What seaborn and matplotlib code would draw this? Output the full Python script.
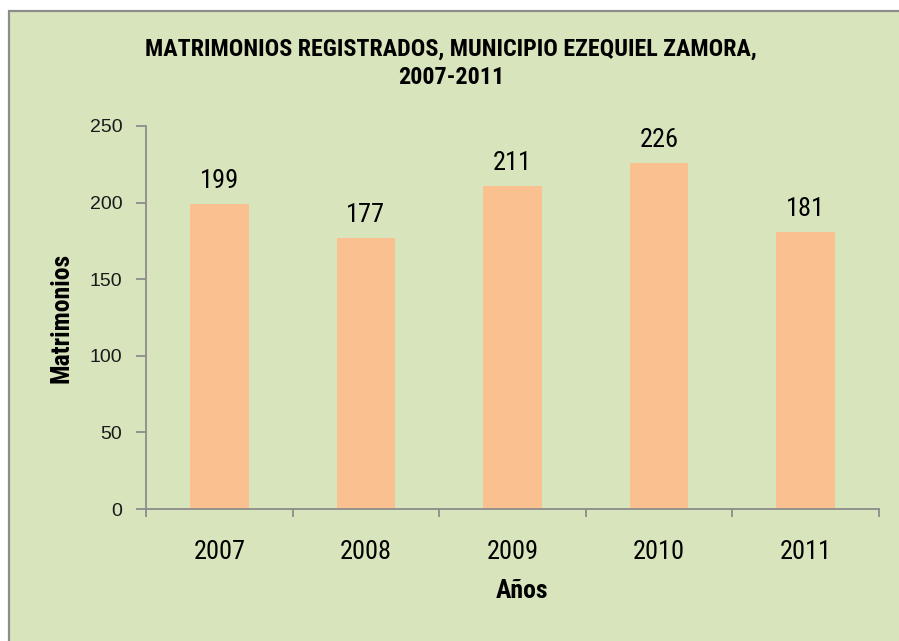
import matplotlib
matplotlib.use("Agg")
import matplotlib.pyplot as plt
from matplotlib.patches import Rectangle
import seaborn as sns
import pandas as pd

years = ["2007", "2008", "2009", "2010", "2011"]
matrimonios = [199, 177, 211, 226, 181]
y_ticks = [0, 50, 100, 150, 200, 250]

title_text = "MATRIMONIOS REGISTRADOS, MUNICIPIO EZEQUIEL ZAMORA,\n2007-2011"
x_label = "Años"
y_label = "Matrimonios"

panel_color = "#D8E4BC"
bar_color = "#FAC090"
line_gray = "#8C8C8C"

sns.set_theme(style="white")
narrow = ["Roboto Condensed", "DejaVu Sans"]
plt.rcParams["font.family"] = ["Liberation Sans", "DejaVu Sans"]

df = pd.DataFrame({"Año": years, "Matrimonios": matrimonios})

fig = plt.figure(figsize=(8.99, 6.41), dpi=100, facecolor="white")

# chart panel with a gray frame on its top and left edges
panel = Rectangle((8.5 / 899, -0.1), 1.2, 630.5 / 641 + 0.1,
                  transform=fig.transFigure, facecolor=panel_color,
                  edgecolor=line_gray, linewidth=1.6, zorder=-10)
fig.patches.append(panel)

ax = fig.add_axes([146 / 899, 1 - 509 / 641, 733 / 899, 383 / 641], zorder=5)
ax.set_facecolor("none")

sns.barplot(data=df, x="Año", y="Matrimonios", color=bar_color,
            saturation=1, width=0.4, linewidth=0, edgecolor=bar_color, ax=ax)

ax.bar_label(ax.containers[0], labels=[str(v) for v in matrimonios],
             padding=8, fontsize=19, family=narrow, color="black")

ax.set_xlim(-0.5, len(years) - 0.5)
ax.set_ylim(0, 250)
ax.set_yticks(y_ticks)
ax.set_yticklabels([str(t) for t in y_ticks], fontsize=14, color="#1a1a1a")

# category boundary ticks on the x axis
ax.set_xticks([i - 0.5 for i in range(len(years) + 1)], minor=True)
ax.tick_params(axis="x", which="minor", length=6, width=1.3, color=line_gray,
               direction="out", bottom=True)
ax.tick_params(axis="x", which="major", length=0, pad=22)
for lbl in ax.get_xticklabels():
    lbl.set_fontsize(19)
    lbl.set_family(narrow)
    lbl.set_color("black")

ax.tick_params(axis="y", which="major", length=7, width=1.3, color=line_gray,
               direction="out", left=True, pad=10)

for side in ["top", "right"]:
    ax.spines[side].set_visible(False)
for side in ["left", "bottom"]:
    ax.spines[side].set_color(line_gray)
    ax.spines[side].set_linewidth(1.3)

ax.set_xlabel("")
ax.set_ylabel("")

fig.text(522 / 899, 1 - 591 / 641, x_label, ha="center", va="center",
         fontsize=18.5, fontweight="bold", family=narrow, color="black")
fig.text(62 / 899, 1 - 318 / 641, y_label, ha="center", va="center",
         rotation=90, fontsize=18.5, fontweight="bold", family=narrow, color="black")
fig.text(451 / 899, 1 - 63 / 641, title_text, ha="center", va="center",
         fontsize=17.3, fontweight="bold", family=narrow, linespacing=1.3,
         color="black")

fig.savefig("out.png", dpi=100, facecolor=fig.get_facecolor())
